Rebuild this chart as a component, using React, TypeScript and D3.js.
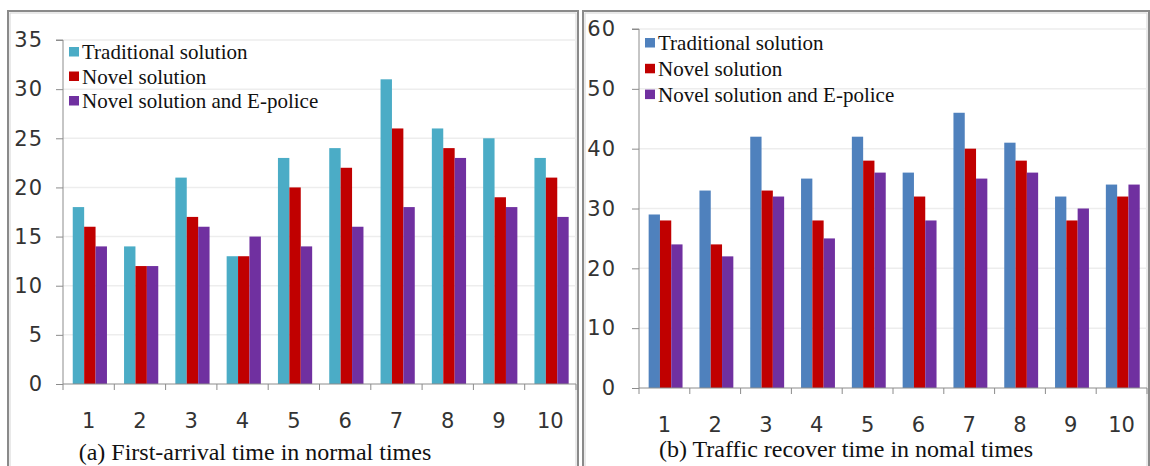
import { useEffect, useRef } from 'react'
import * as d3 from 'd3'

const caseLabels = ['1', '2', '3', '4', '5', '6', '7', '8', '9', '10']
const seriesNames = ['Traditional solution', 'Novel solution', 'Novel solution and E-police']

// (a) first-arrival time
const arrivalTraditional = [18, 14, 21, 13, 23, 24, 31, 26, 25, 23]
const arrivalNovel = [16, 12, 17, 13, 20, 22, 26, 24, 19, 21]
const arrivalEpolice = [14, 12, 16, 15, 14, 16, 18, 23, 18, 17]
const arrivalTicks = [0, 5, 10, 15, 20, 25, 30, 35]

// (b) traffic recover time
const recoverTraditional = [29, 33, 42, 35, 42, 36, 46, 41, 32, 34]
const recoverNovel = [28, 24, 33, 28, 38, 32, 40, 38, 28, 32]
const recoverEpolice = [24, 22, 32, 25, 36, 28, 35, 36, 30, 34]
const recoverTicks = [0, 10, 20, 30, 40, 50, 60]

interface PanelConfig {
  frame: [number, number, number, number]
  left: number
  right: number
  top: number
  bottom: number
  series: number[][]
  colors: string[]
  ticks: number[]
  labelGap: number
  xLabelY: number
  legendY: number
  legendStep: number
  title: string
  titleX: number
  titleY: number
}

function drawPanel(svg: d3.Selection<SVGSVGElement, unknown, null, undefined>, cfg: PanelConfig) {
  const [fx0, fy0, fx1, fy1] = cfg.frame
  const panel = svg.append('g')

  panel.append('rect')
    .attr('x', fx0).attr('y', fy0)
    .attr('width', fx1 - fx0).attr('height', fy1 - fy0)
    .attr('fill', '#fff')
    .attr('stroke', '#8a8a8a')
    .attr('stroke-width', 2)
  panel.append('rect')
    .attr('x', fx0 + 2).attr('y', fy0 + 2)
    .attr('width', fx1 - fx0 - 4).attr('height', fy1 - fy0 - 4)
    .attr('fill', 'none')
    .attr('stroke', '#d4d4d4')
    .attr('stroke-width', 1)

  const x0 = d3.scaleBand<string>()
    .domain(caseLabels)
    .range([cfg.left, cfg.right])
  const bw = x0.bandwidth()
  const x1 = d3.scaleBand<number>()
    .domain(d3.range(cfg.series.length))
    .range([bw * 0.19, bw * 0.19 + bw * 0.667])

  const y = d3.scaleLinear()
    .domain([0, d3.max(cfg.ticks) as number])
    .range([cfg.bottom, cfg.top])

  // gridlines
  panel.append('g')
    .selectAll('line')
    .data(cfg.ticks.filter(t => t > 0))
    .enter().append('line')
    .attr('x1', cfg.left).attr('x2', cfg.right)
    .attr('y1', d => y(d)).attr('y2', d => y(d))
    .attr('stroke', '#ededed')
    .attr('stroke-width', 1.5)

  // bars
  cfg.series.forEach((values, si) => {
    panel.append('g')
      .selectAll('rect')
      .data(values)
      .enter().append('rect')
      .attr('x', (d, i) => (x0(caseLabels[i]) as number) + (x1(si) as number))
      .attr('y', d => y(d))
      .attr('width', x1.bandwidth())
      .attr('height', d => cfg.bottom - y(d))
      .attr('fill', cfg.colors[si])
  })

  // y axis
  const yAxis = panel.append('g')
    .attr('transform', `translate(${cfg.left},0)`)
    .call(d3.axisLeft(y).tickValues(cfg.ticks).tickSize(7).tickPadding(cfg.labelGap).tickFormat(d3.format('d')))
  yAxis.select('.domain').attr('stroke', '#8c8c8c').attr('d', `M-7,${cfg.top}H0V${cfg.bottom}`)
  yAxis.selectAll('.tick line').attr('stroke', '#8c8c8c')
  yAxis.selectAll('text')
    .attr('fill', '#333')
    .style('font-family', '"DejaVu Sans", sans-serif')
    .style('font-size', '21px')
    .style('letter-spacing', '1px')

  // x axis with ticks between groups
  const xg = panel.append('g')
  xg.append('line')
    .attr('x1', cfg.left).attr('x2', cfg.right)
    .attr('y1', cfg.bottom).attr('y2', cfg.bottom)
    .attr('stroke', '#8c8c8c')
  xg.selectAll('.xtick')
    .data(d3.range(caseLabels.length + 1))
    .enter().append('line')
    .attr('x1', i => cfg.left + i * x0.step())
    .attr('x2', i => cfg.left + i * x0.step())
    .attr('y1', cfg.bottom).attr('y2', cfg.bottom + 6)
    .attr('stroke', '#8c8c8c')
  xg.selectAll('text')
    .data(caseLabels)
    .enter().append('text')
    .attr('x', d => (x0(d) as number) + bw / 2)
    .attr('y', cfg.xLabelY)
    .attr('text-anchor', 'middle')
    .attr('fill', '#333')
    .style('font-family', '"DejaVu Sans", sans-serif')
    .style('font-size', '21px')
    .text(d => d)

  // legend
  const legend = panel.append('g')
    .attr('transform', `translate(${cfg.left + 6},${cfg.legendY})`)
  const items = legend.selectAll('g')
    .data(seriesNames)
    .enter().append('g')
    .attr('transform', (d, i) => `translate(0,${i * cfg.legendStep})`)
  items.append('rect')
    .attr('x', 0).attr('y', -12)
    .attr('width', 10).attr('height', 9.5)
    .attr('fill', (d, i) => cfg.colors[i])
  items.append('text')
    .attr('x', 13).attr('y', 0)
    .attr('fill', '#111')
    .style('font-family', '"Liberation Serif", "Times New Roman", serif')
    .style('font-size', '21px')
    .text(d => d)

  panel.append('text')
    .attr('x', cfg.titleX)
    .attr('y', cfg.titleY)
    .attr('text-anchor', 'middle')
    .attr('fill', '#111')
    .style('font-family', '"Liberation Serif", "Times New Roman", serif')
    .style('font-size', '24px')
    .text(cfg.title)
}

export default function App() {
  const svgRef = useRef<SVGSVGElement>(null)

  useEffect(() => {
    if (!svgRef.current) return
    const svg = d3.select(svgRef.current)
    svg.selectAll('*').remove()

    svg.append('rect').attr('width', 1150).attr('height', 466).attr('fill', '#fff')

    drawPanel(svg, {
      frame: [8, 11, 578, 480],
      left: 63,
      right: 576,
      top: 40,
      bottom: 384,
      series: [arrivalTraditional, arrivalNovel, arrivalEpolice],
      colors: ['#4bacc6', '#c00000', '#7030a0'],
      ticks: arrivalTicks,
      labelGap: 13,
      xLabelY: 428,
      legendY: 59,
      legendStep: 24.5,
      title: '(a) First-arrival time in normal times',
      titleX: 255,
      titleY: 460,
    })

    drawPanel(svg, {
      frame: [583, 11, 1149, 480],
      left: 639,
      right: 1147,
      top: 29,
      bottom: 388,
      series: [recoverTraditional, recoverNovel, recoverEpolice],
      colors: ['#4f81bd', '#c00000', '#7030a0'],
      ticks: recoverTicks,
      labelGap: 16,
      xLabelY: 432,
      legendY: 50,
      legendStep: 25.8,
      title: '(b) Traffic recover time in nomal times',
      titleX: 846,
      titleY: 457,
    })
  }, [])

  return (
    <svg
      ref={svgRef}
      width={1150}
      height={466}
      style={{ position: 'absolute', left: 0, top: 0, display: 'block' }}
    />
  )
}
